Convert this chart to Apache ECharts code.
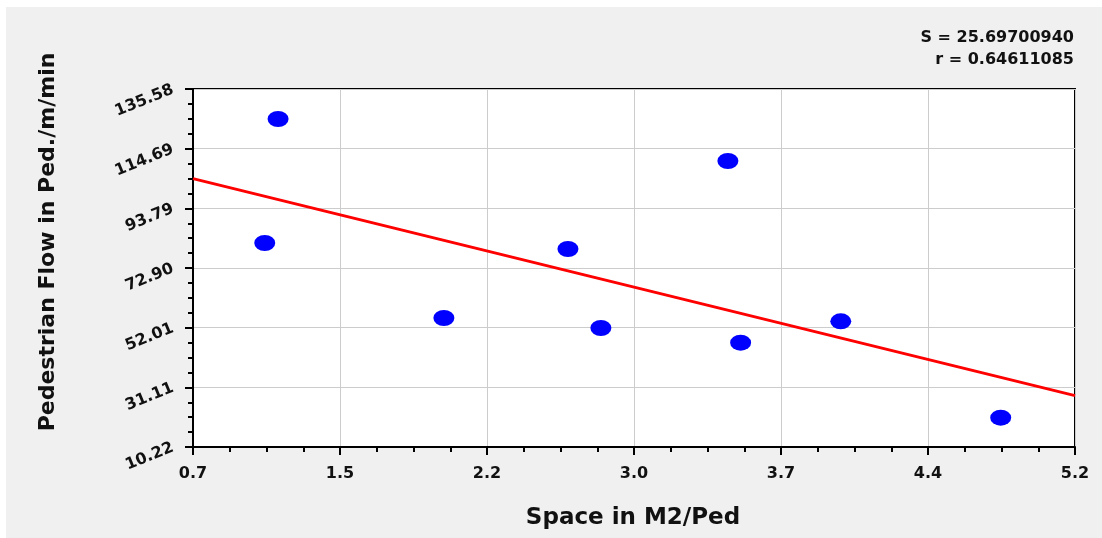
<!DOCTYPE html>
<html>
<head>
<meta charset="utf-8">
<script src="https://cdn.jsdelivr.net/npm/echarts@6/dist/echarts.min.js"></script>
<style>
html,body{margin:0;padding:0;background:#fff;}
#chart{width:1102px;height:538px;}
</style>
</head>
<body>
<div id="chart"></div>
<script>
// Data
const spaceValues = [1.134, 1.066, 1.980, 2.613, 2.781, 3.429, 3.494, 4.005, 4.821];
const flowValues  = [125.08, 81.66, 55.40, 79.56, 51.90, 110.37, 46.75, 54.24, 20.49];
const fitX = [0.7, 5.2];
const fitY = [104.2, 28.2];
const xTickLabels = ['0.7', '1.5', '2.2', '3.0', '3.7', '4.4', '5.2'];
const yTickLabels = ['10.22', '31.11', '52.01', '72.90', '93.79', '114.69', '135.58'];
const statLines = ['S = 25.69700940', 'r = 0.64611085'];
const xTitle = 'Space in M2/Ped';
const yTitle = 'Pedestrian Flow in Ped./m/min';

const xMin = 0.7, xMax = 5.2, xStep = 0.75;
const yMin = 10.22, yMax = 135.58, yStep = (yMax - yMin) / 6;

const points = spaceValues.map((x, i) => [x, flowValues[i]]);
const fitLine = fitX.map((x, i) => [x, fitY[i]]);

const font = '"DejaVu Sans", sans-serif';
const chart = echarts.init(document.getElementById('chart'), null, {renderer: 'canvas'});

chart.setOption({
  backgroundColor: '#ffffff',
  animation: false,
  graphic: [
    {type: 'rect', left: 6, top: 7, z: -10, shape: {width: 1096, height: 531}, style: {fill: '#f0f0f0'}},
    {type: 'text', x: 1074, y: 38, z: 10, style: {text: statLines[0], font: 'bold 16px ' + font, fill: '#111', align: 'right', verticalAlign: 'middle'}},
    {type: 'text', x: 1074, y: 60, z: 10, style: {text: statLines[1], font: 'bold 16px ' + font, fill: '#111', align: 'right', verticalAlign: 'middle'}},
    {type: 'text', x: 633, y: 518, z: 10, style: {text: xTitle, font: 'bold 23px ' + font, fill: '#111', align: 'center', verticalAlign: 'middle'}},
    {type: 'text', x: 48, y: 242, rotation: Math.PI / 2, z: 10, style: {text: yTitle, font: 'bold 22px ' + font, fill: '#111', align: 'center', verticalAlign: 'middle'}}
  ],
  grid: {left: 193, top: 89, right: 27, bottom: 91, show: true, backgroundColor: '#ffffff', borderColor: '#000', borderWidth: 2},
  xAxis: {
    type: 'value', min: xMin, max: xMax, interval: xStep,
    axisLine: {show: true, onZero: false, lineStyle: {color: '#000', width: 2}},
    axisTick: {show: true, inside: false, length: 8, lineStyle: {color: '#000', width: 2}},
    minorTick: {show: true, splitNumber: 4, length: 5, lineStyle: {color: '#000', width: 2}},
    splitLine: {show: true, lineStyle: {color: '#cccccc', width: 1}},
    axisLabel: {
      margin: 19, color: '#111', fontFamily: font, fontWeight: 'bold', fontSize: 16,
      formatter: v => xTickLabels[Math.round((v - xMin) / xStep)] || ''
    }
  },
  yAxis: {
    type: 'value', min: yMin, max: yMax, interval: yStep,
    axisLine: {show: true, onZero: false, lineStyle: {color: '#000', width: 2}},
    axisTick: {show: true, inside: false, length: 8, lineStyle: {color: '#000', width: 2}},
    minorTick: {show: true, splitNumber: 4, length: 5, lineStyle: {color: '#000', width: 2}},
    splitLine: {show: true, lineStyle: {color: '#cccccc', width: 1}},
    axisLabel: {
      margin: 20, rotate: 22, color: '#111', fontFamily: font, fontWeight: 'bold', fontSize: 16,
      formatter: v => yTickLabels[Math.round((v - yMin) / yStep)] || ''
    }
  },
  series: [
    {type: 'line', data: fitLine, symbol: 'none', z: 2, lineStyle: {color: '#ff0000', width: 3}},
    {type: 'scatter', data: points, symbol: 'circle', symbolSize: [21, 16], z: 3, itemStyle: {color: '#0000ff', opacity: 1}}
  ]
});
</script>
</body>
</html>
